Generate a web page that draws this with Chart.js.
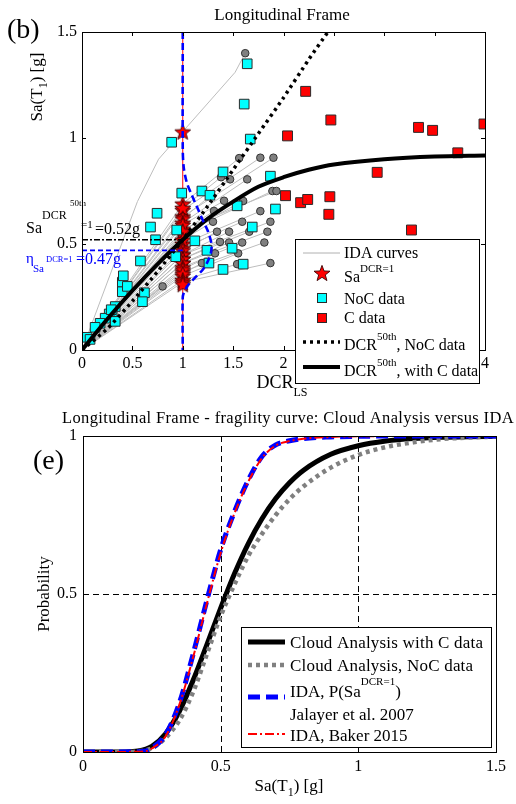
<!DOCTYPE html>
<html><head><meta charset="utf-8">
<script src="https://cdn.jsdelivr.net/npm/chart.js@4.4.1/dist/chart.umd.min.js"></script>
<style>
html,body{margin:0;padding:0;background:#fff;width:516px;height:804px;overflow:hidden}
.wrap{position:absolute;left:0;width:516px}
#w1{top:0;height:400px}
#w2{top:400px;height:404px}
canvas{display:block}
</style></head><body>
<div class="wrap" id="w1"><canvas id="c1" width="516" height="400"></canvas></div>
<div class="wrap" id="w2"><canvas id="c2" width="516" height="404"></canvas></div>
<script>
// ===== Panel (b): IDA vs Cloud data =====
const xTicksTop = [0,0.5,1,1.5,2,2.5,3,3.5,4];
const yTicksTop = [0,0.5,1,1.5];
// IDA curves: Sa at DCR=1 (stars) and end points (gray circles)
const idaStarSa = [1.03,0.69,0.66,0.63,0.67,0.62,0.60,0.55,0.57,0.59,0.55,0.50,0.56,0.52,0.48,0.45,0.47,0.45,0.43,0.41,0.43,0.41,0.39,0.37,0.38,0.35,0.36,0.33,0.32,0.31];
const idaEndDCR = [1.62,1.56,1.77,1.90,1.38,1.47,1.64,1.89,1.93,1.41,1.60,1.77,1.31,1.30,1.59,1.87,1.34,1.46,1.66,1.84,1.37,1.46,1.59,1.81,1.32,1.55,1.19,1.54,1.87,0.80];
const idaEndSa  = [1.40,0.905,0.907,0.907,0.815,0.805,0.805,0.75,0.75,0.704,0.703,0.655,0.656,0.605,0.605,0.605,0.558,0.558,0.558,0.558,0.51,0.507,0.507,0.507,0.456,0.456,0.41,0.405,0.41,0.30];
const firstIdaDCR = [0,0.55,0.76,1.0,1.52,1.62];
const firstIdaSa  = [0,0.70,0.90,1.03,1.31,1.40];
const starDCR = 1;
// NoC data (cyan squares)
const nocDCR = [1.64,1.61,1.67,0.89,0.99,1.19,1.27,0.745,0.68,1.40,1.87,1.54,1.92,1.69,0.94,0.73,1.12,0.58,0.93,1.24,1.49,1.26,1.60,1.40,0.40,0.41,0.40,0.45,0.62,0.60,0.33,0.30,0.27,0.23,0.33,0.18,0.13,0.05,0.08,0.29];
const nocSa  = [1.35,1.16,0.995,0.98,0.74,0.75,0.73,0.645,0.58,0.84,0.82,0.68,0.665,0.58,0.566,0.52,0.515,0.42,0.44,0.47,0.48,0.41,0.405,0.38,0.32,0.35,0.275,0.30,0.27,0.228,0.205,0.18,0.17,0.15,0.135,0.126,0.107,0.06,0.05,0.19];
// C data (red squares)
const cDCR = [2.22,2.47,2.04,3.34,3.48,3.99,3.73,2.93,2.02,2.17,2.24,2.46,2.45,3.27];
const cSa  = [1.22,1.085,1.01,1.05,1.036,1.066,0.93,0.838,0.728,0.695,0.71,0.723,0.64,0.566];
// Median DCR curves
const solidDCR = [0,0.25,0.5,0.75,1,1.25,1.5,1.75,2,2.25,2.5,3,3.5,4];
const solidSa  = [0,0.145,0.28,0.405,0.52,0.62,0.70,0.77,0.815,0.85,0.875,0.90,0.913,0.918];
const dotDCR = [0,0.25,0.5,0.75,1,1.25,1.5,1.75,2,2.25,2.44];
const dotSa  = [0,0.10,0.23,0.37,0.52,0.68,0.85,1.02,1.19,1.37,1.5];
// IDA distribution of Sa at DCR=1 (blue dashed)
const pdfDCR = [1,1,1.01,1.04,1.09,1.155,1.21,1.25,1.285,1.28,1.25,1.20,1.12,1.06,1.02,1,1];
const pdfSa  = [1.5,0.95,0.86,0.79,0.73,0.66,0.60,0.56,0.50,0.46,0.42,0.38,0.34,0.31,0.28,0.25,0];
const saCloud50 = 0.52;
const saIdaMedian = 0.47;

// ===== Panel (e): fragility curves =====
const xTicksBot = [0,0.5,1,1.5];
const yTicksBot = [0,0.5,1];
const fragSa   = [0,0.1,0.15,0.2,0.25,0.3,0.35,0.4,0.45,0.5,0.55,0.6,0.65,0.7,0.75,0.8,0.9,1.0,1.1,1.2,1.3,1.4,1.5];
const cloudC   = [0,0,0.0002,0.003,0.018,0.058,0.129,0.227,0.34,0.455,0.564,0.659,0.738,0.802,0.852,0.891,0.942,0.969,0.984,0.992,0.996,0.998,0.999];
const cloudNoC = [0,0,0,0.002,0.012,0.045,0.10,0.19,0.31,0.43,0.53,0.62,0.69,0.75,0.80,0.84,0.90,0.94,0.965,0.98,0.99,0.995,0.998];
const idaSa    = [0,0.1,0.2,0.23,0.25,0.3,0.35,0.4,0.45,0.5,0.55,0.6,0.65,0.7,0.75,0.8,0.9,1.0,1.2,1.5];
const idaJal   = [0,0,0.001,0.003,0.012,0.055,0.155,0.31,0.48,0.64,0.76,0.86,0.935,0.972,0.985,0.992,0.997,0.999,1,1];
const idaBaker = [0,0,0.001,0.003,0.011,0.05,0.15,0.30,0.47,0.63,0.755,0.855,0.93,0.97,0.984,0.991,0.997,0.999,1,1];

const FONT = '"Liberation Serif", "Times New Roman", serif';
const pts = (xs, ys) => xs.map((x, i) => ({x, y: ys[i]}));

const starImg = (() => {
  const c = document.createElement('canvas'); c.width = 18; c.height = 18;
  const g = c.getContext('2d');
  g.beginPath();
  for (let i = 0; i < 10; i++) {
    const r = i % 2 === 0 ? 8.4 : 3.5;
    const a = -Math.PI / 2 + i * Math.PI / 5;
    const px = 9 + r * Math.cos(a), py = 9.8 + r * Math.sin(a);
    if (i) g.lineTo(px, py); else g.moveTo(px, py);
  }
  g.closePath();
  g.fillStyle = '#ff0000'; g.fill();
  g.strokeStyle = '#3a0000'; g.lineWidth = 0.9; g.stroke();
  return c;
})();

function rich(ctx, x, y, parts, align, color, spacing) {
  ctx.fillStyle = color || '#000';
  ctx.textBaseline = 'alphabetic'; ctx.textAlign = 'left';
  ctx.letterSpacing = (spacing || 0) + 'px';
  let w = 0;
  parts.forEach(p => { ctx.font = p[1] + 'px ' + FONT; w += ctx.measureText(p[0]).width; });
  let cx = align === 'center' ? x - w / 2 : (align === 'right' ? x - w : x);
  parts.forEach(p => {
    ctx.font = p[1] + 'px ' + FONT;
    ctx.fillText(p[0], cx, y + (p[2] || 0));
    cx += ctx.measureText(p[0]).width;
  });
  ctx.letterSpacing = '0px';
}
function seg(ctx, x1, y1, x2, y2, color, w, dash) {
  ctx.save(); ctx.beginPath(); ctx.strokeStyle = color; ctx.lineWidth = w; ctx.setLineDash(dash || []);
  ctx.moveTo(x1, y1); ctx.lineTo(x2, y2); ctx.stroke(); ctx.restore();
}
function frame(chart, xt, yt) {
  const {ctx, chartArea: a, scales: {x, y}} = chart;
  ctx.save();
  ctx.strokeStyle = '#000'; ctx.lineWidth = 1; ctx.setLineDash([]);
  ctx.strokeRect(a.left + 0.5, a.top + 0.5, a.right - a.left, a.bottom - a.top);
  ctx.beginPath();
  xt.forEach(v => { const p = Math.round(x.getPixelForValue(v)) + 0.5;
    ctx.moveTo(p, a.bottom); ctx.lineTo(p, a.bottom - 4); ctx.moveTo(p, a.top); ctx.lineTo(p, a.top + 4); });
  yt.forEach(v => { const p = Math.round(y.getPixelForValue(v)) + 0.5;
    ctx.moveTo(a.left, p); ctx.lineTo(a.left + 4, p); ctx.moveTo(a.right, p); ctx.lineTo(a.right - 4, p); });
  ctx.stroke(); ctx.restore();
}
function scaleCfg(min, max, ticksArr, horiz, size, pad) {
  return {
    type: 'linear', min, max,
    afterBuildTicks: s => { s.ticks = ticksArr.map(v => ({value: v})); },
    afterFit: s => { if (horiz) s.height = size; else s.width = size; },
    ticks: {font: {family: FONT, size: 16}, color: '#000', padding: pad, maxRotation: 0, autoSkip: false, callback: v => String(v)},
    grid: {display: false, drawTicks: false},
    border: {display: false}
  };
}

// ---------- Chart 1 ----------
const ds1 = [];
idaEndDCR.forEach((d, i) => {
  let data;
  if (i === 0) data = pts(firstIdaDCR, firstIdaSa);
  else if (d < starDCR) data = [{x: 0, y: 0}, {x: d, y: idaEndSa[i]}];
  else data = [{x: 0, y: 0}, {x: starDCR, y: idaStarSa[i]}, {x: d, y: idaEndSa[i]}];
  ds1.push({data, showLine: true, borderColor: '#bdbdbd', borderWidth: 1, pointRadius: 0, order: 30});
});
ds1.push({data: pts(idaEndDCR, idaEndSa), pointStyle: 'circle', pointRadius: 3.8, backgroundColor: '#808080', borderColor: '#333', borderWidth: 1, order: 25});
ds1.push({data: [{x: starDCR, y: 0}, {x: starDCR, y: 1.5}], showLine: true, borderColor: '#ff0000', borderWidth: 1, pointRadius: 0, order: 22});
ds1.push({data: idaStarSa.map(s => ({x: starDCR, y: s})), pointStyle: starImg, pointRadius: 8, order: 20});
ds1.push({data: pts(nocDCR, nocSa), pointStyle: 'rect', pointRadius: 6.8, backgroundColor: '#00ffff', borderColor: '#2a2a2a', borderWidth: 1, order: 15});
ds1.push({data: pts(cDCR, cSa), pointStyle: 'rect', pointRadius: 7, backgroundColor: '#ff0000', borderColor: '#2a2a2a', borderWidth: 1, order: 15});
ds1.push({data: pts(solidDCR, solidSa), showLine: true, borderColor: '#000', borderWidth: 4, pointRadius: 0, tension: 0.3, order: 8});
ds1.push({data: pts(dotDCR, dotSa), showLine: true, borderColor: '#000', borderWidth: 3.5, borderDash: [3, 4], pointRadius: 0, tension: 0.2, order: 8});
ds1.push({data: pts(pdfDCR, pdfSa), showLine: true, borderColor: '#0000ff', borderWidth: 2.6, borderDash: [7, 4], pointRadius: 0, tension: 0.3, order: 6});
ds1.push({data: [{x: 0, y: saCloud50}, {x: starDCR, y: saCloud50}], showLine: true, borderColor: '#000', borderWidth: 1.4, borderDash: [6, 2, 2, 2], pointRadius: 0, order: 5});
ds1.push({data: [{x: 0, y: saIdaMedian}, {x: starDCR, y: saIdaMedian}], showLine: true, borderColor: '#0000ff', borderWidth: 1.6, borderDash: [5, 3], pointRadius: 0, order: 5});

const deco1 = {
  id: 'deco1',
  afterDatasetsDraw(chart) { frame(chart, xTicksTop, yTicksTop); },
  afterDraw(chart) {
    const ctx = chart.ctx;
    ctx.save();
    rich(ctx, 282, 20, [['Longitudinal Frame', 17]], 'center');
    rich(ctx, 7, 38, [['(b)', 28]], 'left');
    // y title
    ctx.save(); ctx.translate(42, 87); ctx.rotate(-Math.PI / 2);
    rich(ctx, 0, 0, [['Sa(T', 17], ['1', 12, 5], [') [g]', 17]], 'center');
    ctx.restore();
    // annotations
    rich(ctx, 26, 233, [['Sa', 16]], 'left');
    rich(ctx, 42, 219, [['DCR', 12]], 'left');
    rich(ctx, 70, 206, [['50th', 9]], 'left');
    rich(ctx, 81, 228, [['=1', 11]], 'left');
    rich(ctx, 95, 234, [['=0.52g', 16]], 'left');
    rich(ctx, 26, 263, [['\u03b7', 15]], 'left', '#0000ff');
    rich(ctx, 33, 272, [['Sa', 11]], 'left', '#0000ff');
    rich(ctx, 46, 262, [['DCR=1', 8.5]], 'left', '#0000ff');
    rich(ctx, 76, 264, [['=0.47g', 16]], 'left', '#0000ff');
    // legend
    ctx.fillStyle = '#fff'; ctx.fillRect(295, 239, 184, 144);
    ctx.strokeStyle = '#000'; ctx.lineWidth = 1; ctx.strokeRect(295.5, 239.5, 184, 144);
    const lx = 344;
    seg(ctx, 303, 253, 340, 253, '#b0b0b0', 1);
    rich(ctx, lx, 258, [['IDA curves', 16]], 'left');
    ctx.drawImage(starImg, 322 - 9, 274 - 10);
    rich(ctx, lx, 282, [['Sa', 16], ['DCR=1', 11, -10]], 'left');
    ctx.fillStyle = '#00ffff'; ctx.fillRect(317.5, 293.5, 9, 9); ctx.strokeStyle = '#2a2a2a'; ctx.strokeRect(317.5, 293.5, 9, 9);
    rich(ctx, lx, 304, [['NoC data', 16]], 'left');
    ctx.fillStyle = '#ff0000'; ctx.fillRect(317.5, 313.5, 9, 9); ctx.strokeStyle = '#2a2a2a'; ctx.strokeRect(317.5, 313.5, 9, 9);
    rich(ctx, lx, 323, [['C data', 16]], 'left');
    seg(ctx, 303, 342, 340, 342, '#000', 3.5, [3, 4]);
    rich(ctx, lx, 350, [['DCR', 16], ['50th', 11, -10], [', NoC data', 16]], 'left');
    seg(ctx, 303, 367, 340, 367, '#000', 4);
    rich(ctx, lx, 376, [['DCR', 16], ['50th', 11, -10], [', with C data', 16]], 'left');
    // x title
    rich(ctx, 282, 388, [['DCR', 18], ['LS', 12, 8]], 'center');
    ctx.restore();
  }
};

new Chart(document.getElementById('c1'), {
  type: 'scatter',
  data: {datasets: ds1},
  options: {
    responsive: false, animation: false, events: [],
    layout: {padding: {left: 0, top: 32, right: 31, bottom: 0}},
    plugins: {legend: {display: false}, tooltip: {enabled: false}, title: {display: false}},
    scales: {x: scaleCfg(0, 4, xTicksTop, true, 50, 4), y: scaleCfg(0, 1.5, yTicksTop, false, 82, 5)}
  },
  plugins: [deco1]
});

// ---------- Chart 2 ----------
const ds2 = [
  {data: pts(idaSa, idaBaker), showLine: true, borderColor: '#ff0000', borderWidth: 2, borderDash: [9, 3, 2, 3], pointRadius: 0, cubicInterpolationMode: 'monotone', order: 1},
  {data: pts(idaSa, idaJal), showLine: true, borderColor: '#0000ff', borderWidth: 5, borderDash: [12, 6], pointRadius: 0, cubicInterpolationMode: 'monotone', order: 2},
  {data: pts(fragSa, cloudNoC), showLine: true, borderColor: '#808080', borderWidth: 4.5, borderDash: [4, 4], pointRadius: 0, cubicInterpolationMode: 'monotone', order: 3},
  {data: pts(fragSa, cloudC), showLine: true, borderColor: '#000', borderWidth: 5, pointRadius: 0, cubicInterpolationMode: 'monotone', order: 4}
];
const deco2 = {
  id: 'deco2',
  beforeDatasetsDraw(chart) {
    const {ctx, chartArea: a, scales: {x, y}} = chart;
    [0.5, 1].forEach(v => { const p = Math.round(x.getPixelForValue(v)) + 0.5; seg(ctx, p, a.top, p, a.bottom, '#000', 1, [6, 4]); });
    const q = Math.round(y.getPixelForValue(0.5)) + 0.5; seg(ctx, a.left, q, a.right, q, '#000', 1, [6, 4]);
  },
  afterDatasetsDraw(chart) { frame(chart, xTicksBot, yTicksBot); },
  afterDraw(chart) {
    const ctx = chart.ctx;
    ctx.save();
    rich(ctx, 288, 23, [['Longitudinal Frame - fragility curve: Cloud Analysis versus IDA', 16.5]], 'center', '#000', 0.35);
    rich(ctx, 33, 69, [['(e)', 28]], 'left');
    ctx.save(); ctx.translate(49, 194); ctx.rotate(-Math.PI / 2);
    rich(ctx, 0, 0, [['Probability', 17]], 'center');
    ctx.restore();
    rich(ctx, 289, 391, [['Sa(T', 17], ['1', 12, 5], [') [g]', 17]], 'center');
    // legend
    ctx.fillStyle = '#fff'; ctx.fillRect(241, 227, 250, 120);
    ctx.strokeStyle = '#000'; ctx.lineWidth = 1; ctx.strokeRect(241.5, 227.5, 250, 120);
    const lx = 290;
    seg(ctx, 248, 242, 285, 242, '#000', 5);
    rich(ctx, lx, 248, [['Cloud Analysis with C data', 17]], 'left', '#000', 0.2);
    seg(ctx, 248, 265, 285, 265, '#808080', 4.5, [4, 4]);
    rich(ctx, lx, 271, [['Cloud Analysis, NoC data', 17]], 'left', '#000', 0.2);
    seg(ctx, 248, 297, 285, 297, '#0000ff', 5, [12, 6]);
    rich(ctx, lx, 297, [['IDA, P(Sa', 17], ['DCR=1', 11, -12], [')', 17]], 'left');
    rich(ctx, lx, 320, [['Jalayer et al. 2007', 17]], 'left');
    seg(ctx, 248, 334, 285, 334, '#ff0000', 2, [9, 3, 2, 3]);
    rich(ctx, lx, 341, [['IDA, Baker 2015', 17]], 'left');
    ctx.restore();
  }
};
new Chart(document.getElementById('c2'), {
  type: 'scatter',
  data: {datasets: ds2},
  options: {
    responsive: false, animation: false, events: [],
    layout: {padding: {left: 0, top: 36, right: 20, bottom: 0}},
    plugins: {legend: {display: false}, tooltip: {enabled: false}, title: {display: false}},
    scales: {x: scaleCfg(0, 1.5, xTicksBot, true, 52, 5), y: scaleCfg(0, 1, yTicksBot, false, 83, 6)}
  },
  plugins: [deco2]
});
</script></body></html>
